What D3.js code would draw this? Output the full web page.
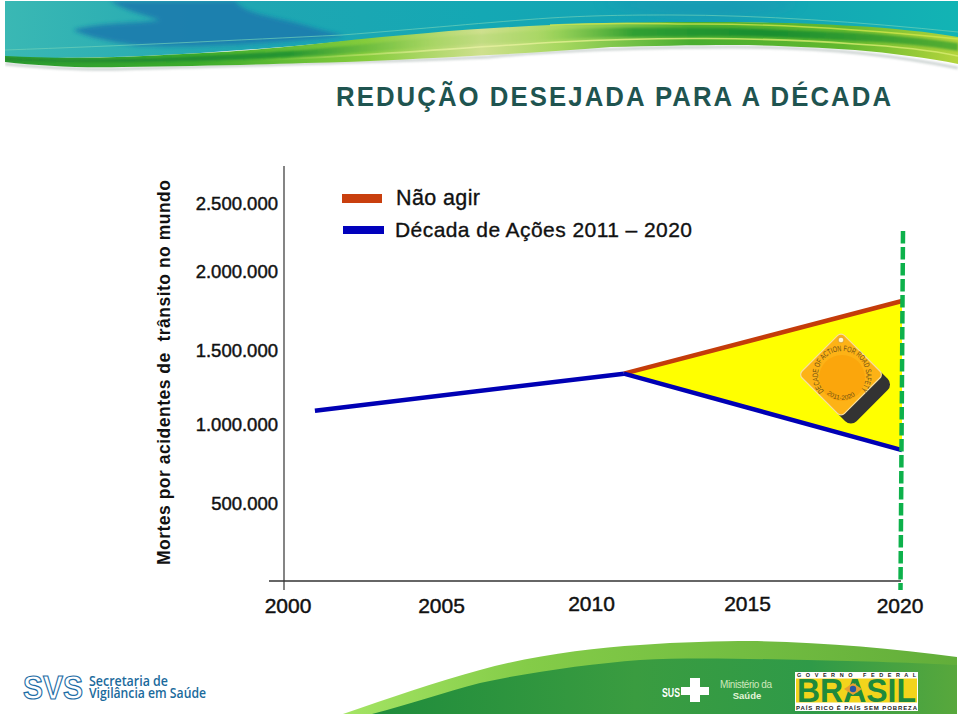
<!DOCTYPE html>
<html><head><meta charset="utf-8">
<script src="https://cdn.jsdelivr.net/npm/d3@7"></script>
<style>html,body{margin:0;background:#fff}svg{display:block}text{font-family:"Liberation Sans",Arial,sans-serif}</style>
</head><body><svg id="c" width="960" height="716"></svg>
<script>
const years=[2000,2005,2010,2015,2020];
const tickValues=[500000,1000000,1500000,2000000,2500000];
const tickLabels=["500.000","1.000.000","1.500.000","2.000.000","2.500.000"];
const trendYears=[2001,2011];
const trendValues=[1090000,1340000];
const naoAgirYears=[2011,2020];
const naoAgirValues=[1340000,1810000];
const decadaYears=[2011,2020];
const decadaValues=[1340000,835000];
const legendLabels=["Não agir","Década de Ações 2011 – 2020"];
const title="REDUÇÃO DESEJADA PARA A DÉCADA";
const yTitle="Mortes por acidentes de  trânsito no mundo";

const svg=d3.select("#c");
const defs=svg.append("defs");
function grad(id,stops,x2=1,y2=0){const g=defs.append("linearGradient").attr("id",id).attr("x1",0).attr("y1",0).attr("x2",x2).attr("y2",y2);
 stops.forEach(s=>g.append("stop").attr("offset",s[0]).attr("stop-color",s[1]).attr("stop-opacity",s[2]===undefined?1:s[2]));}
grad("sky",[[0,"#3ab8b4"],[.25,"#20a6b2"],[.5,"#14a8b4"],[.75,"#15a2b4"],[1,"#12b4b4"]]);
grad("band",[[0,"#2a9a30"],[.2,"#3cab2c"],[.38,"#86cc3c"],[.5,"#cfe08e"],[.58,"#a8d860"],[.72,"#4aae30"],[.88,"#62b82e"],[1,"#b4d43c"]]);
grad("dark",[[0,"#1f7f30",.9],[.3,"#1f9230",.9],[.45,"#8ccc50",.2],[.56,"#8ccc50",.2],[.66,"#2a9c30",.9],[.8,"#148c30",.95],[1,"#4caa30",.9]]);
grad("streak",[[0,"#d8ec70",0],[.3,"#e4f0a0",.9],[.7,"#d8ec70",.8],[1,"#d8ec70",.8]]);
grad("foot",[[0,"#a4e464"],[.3,"#84cc48"],[1,"#62ae3a"]]);
grad("foot2",[[0,"#1f8c3c"],[.45,"#3a9c40"],[.75,"#2f9a48"],[1,"#58a83c"]]);
const bl=(id,s)=>defs.append("filter").attr("id",id).attr("x","-20%").attr("y","-60%").attr("width","140%").attr("height","220%").append("feGaussianBlur").attr("stdDeviation",s);
bl("b6",6);bl("b2",2);bl("b1",.8);
defs.append("clipPath").attr("id","hdr").append("rect").attr("x",5).attr("y",1).attr("width",953).attr("height",72);

// header artwork
const h=svg.append("g").attr("clip-path","url(#hdr)");
h.append("path").attr("d","M5,1H960V40C880,26 790,22 700,22C560,24 430,33 305,45C180,56 80,60 5,57Z").attr("fill","url(#sky)");
h.append("path").attr("d","M73,30C100,22 135,24 160,20C140,14 120,8 110,1H235C245,14 270,16 300,24C320,30 335,33 345,36C290,42 200,48 140,46C110,42 85,36 73,30Z").attr("fill","#1a7cae").attr("opacity",.9).attr("filter","url(#b2)");
h.append("path").attr("d","M600,1H800C780,15 720,15 680,14C650,12 620,8 600,1Z").attr("fill","#1b93b4").attr("opacity",.55).attr("filter","url(#b6)");
h.append("path").attr("d","M5,64C60,69 90,70 122,69C220,66 390,62 489,57C560,50 660,47 733,47C800,47 880,52 958,68").attr("fill","none").attr("stroke","#8b9b98").attr("stroke-width",3).attr("opacity",.4).attr("filter","url(#b1)");
h.append("path").attr("d","M5,56C60,59 120,58 183,54C230,52 265,49 305,45C350,40 390,36 428,33C470,29 510,27 550,25C610,22 660,22 702,22C760,22 810,23 855,26C890,28 930,32 958,37V64C930,58 890,53 855,50C810,47 770,45 733,45C690,45 650,46 611,47C570,50 530,53 489,55C430,58 370,62 305,63C250,65 190,66 122,67C80,68 40,66 5,62Z").attr("fill","url(#band)");
h.append("path").attr("d","M5,58C60,61 120,60 183,57C240,54 275,52 305,50C350,46 390,41 428,38C470,34 510,32 550,30C610,27 660,28 702,28C760,28 810,31 855,33C890,35 930,39 958,43V51C930,46 890,42 855,41C810,38 760,36 702,36C660,37 610,36 550,40C510,43 470,45 428,47C390,50 350,54 305,56C275,58 240,60 183,61C120,63 60,62 5,60Z").attr("fill","url(#dark)").attr("filter","url(#b1)");
h.append("path").attr("d","M260,60C350,57 470,47 560,42C650,37 760,37 855,44C890,46 930,50 958,56").attr("fill","none").attr("stroke","url(#streak)").attr("stroke-width",1.6);
h.append("path").attr("d","M550,25C610,22 660,24 702,24C760,24 850,28 958,39").attr("fill","none").attr("stroke","#d4e84c").attr("stroke-width",1.4).attr("opacity",.75);
h.append("path").attr("d","M5,50C120,46 240,40 342,35C420,29 490,22 550,18C600,15 640,15 672,15C760,15 860,22 958,32").attr("fill","none").attr("stroke","#6fd0b8").attr("stroke-width",1).attr("opacity",.7);

// footer artwork
svg.append("path").attr("d","M343,714C390,698 435,682 480,670C530,656 590,648 640,645C680,642 720,641 750,641C820,642 890,648 957,657V714Z").attr("fill","url(#foot)");
svg.append("path").attr("d","M372,714C410,704 445,692 480,683C530,672 590,664 640,660C690,657 750,659 807,660C860,661 920,663 957,665V714Z").attr("fill","url(#foot2)");

// title
svg.append("text").attr("transform","translate(336,106) scale(.92,1)").attr("textLength",555/.92).attr("lengthAdjust","spacing")
 .attr("font-size",28).attr("font-weight",700).attr("fill","#1f5450").text(title);

// scales
const x=d3.scaleLinear().domain([2000,2020]).range([284,902]);
const y=d3.scaleLinear().domain(tickValues).range([503,424,350,271,203]);
const yearNudge=d3.scaleOrdinal().domain(years).range([4,3,-1.5,0,-2]);
const yearLift=d3.scaleOrdinal().domain(years).range([613,613,611,611,613]);

// axes
svg.append("line").attr("x1",284).attr("x2",284).attr("y1",166).attr("y2",590).attr("stroke","#333").attr("stroke-width",1.2);
svg.append("line").attr("x1",269).attr("x2",901).attr("y1",581).attr("y2",581).attr("stroke","#333").attr("stroke-width",1.3);
svg.append("g").selectAll("text").data(tickValues).join("text")
 .attr("x",278).attr("y",d=>y(d)+6.5).attr("text-anchor","end").attr("font-size",18.5).attr("fill","#111").attr("stroke","#111").attr("stroke-width",.45)
 .text((d,i)=>tickLabels[i]);
svg.append("g").selectAll("text").data(years).join("text")
 .attr("x",d=>x(d)+yearNudge(d)).attr("y",d=>yearLift(d)).attr("text-anchor","middle")
 .attr("font-size",21).attr("fill","#111").attr("stroke","#111").attr("stroke-width",.45).text(d=>d);
svg.append("text").attr("transform","translate(170,565) rotate(-90)").style("white-space","pre")
 .attr("textLength",385).attr("font-size",17.5).attr("font-weight",700).attr("fill","#111").text(yTitle);

// yellow wedge
const tri=naoAgirYears.map((d,i)=>[d,naoAgirValues[i]]).concat([[decadaYears[1],decadaValues[1]]]);
svg.append("path").attr("d",d3.line().x(d=>x(d[0])).y(d=>y(d[1]))(tri)+"Z").attr("fill","#ffff00");

// badge
const b=svg.append("g").attr("transform","translate(841,374.5) rotate(45)");
b.append("rect").attr("x",-6).attr("y",-30).attr("width",50).attr("height",60).attr("rx",8).attr("fill","#333333");
b.append("rect").attr("x",-30).attr("y",-30).attr("width",60).attr("height",60).attr("rx",5).attr("fill","#fdb216").attr("stroke","#f8e0a0").attr("stroke-width",1.2);
svg.append("circle").attr("cx",842).attr("cy",378).attr("r",23).attr("fill","#fba60c");
svg.append("circle").attr("cx",841).attr("cy",340).attr("r",2.8).attr("fill","#fff6d0").attr("stroke","#c98a10").attr("stroke-width",.6);
defs.append("path").attr("id","ring").attr("d","M824,391A24,24 0 1 1 860,391");
svg.append("text").attr("font-size",8).attr("fill","#6e4f14").append("textPath").attr("href","#ring").attr("textLength",108).attr("lengthAdjust","spacingAndGlyphs").text("DECADE OF ACTION FOR ROAD SAFETY");
defs.append("path").attr("id","ring2").attr("d","M826,393A22,22 0 0 0 858,393");
svg.append("text").attr("font-size",6.5).attr("fill","#6e4f14").append("textPath").attr("href","#ring2").attr("startOffset","3%").text("2011-2020");

// lines
const ln=(xs,vs,c,w)=>svg.append("path").attr("d",d3.line().x((d,i)=>x(xs[i])).y(d=>y(d))(vs)).attr("fill","none").attr("stroke",c).attr("stroke-width",w);
ln(naoAgirYears,naoAgirValues,"#c43c0a",4.5);
ln(trendYears,trendValues,"#0000b4",4.5);
ln(decadaYears,decadaValues,"#0000b4",4.5);

// green dashed target
svg.append("line").attr("x1",903).attr("x2",900.5).attr("y1",231).attr("y2",590).attr("stroke","#0db14b").attr("stroke-width",4.5).attr("stroke-dasharray","12.5 3.5");

// legend
svg.append("rect").attr("x",342).attr("y",194).attr("width",40).attr("height",9).attr("fill","#c93f0e");
svg.append("rect").attr("x",343).attr("y",226).attr("width",41).attr("height",8).attr("fill","#0000bc");
svg.append("text").attr("x",396).attr("y",205).attr("font-size",21.5).attr("textLength",84).attr("fill","#111").attr("stroke","#111").attr("stroke-width",.35).text(legendLabels[0]);
svg.append("text").attr("x",395).attr("y",237).attr("font-size",21).attr("textLength",297).attr("fill","#111").attr("stroke","#111").attr("stroke-width",.35).text(legendLabels[1]);

// SVS logo
svg.append("text").attr("x",23).attr("y",699).attr("font-size",33).attr("font-weight",700).attr("textLength",60).attr("lengthAdjust","spacingAndGlyphs").attr("fill","#fff").attr("stroke","#1e6ea6").attr("stroke-width",1.2).text("SVS");
svg.append("text").attr("x",89).attr("y",686).attr("font-size",14).style("font-family","'Open Sans'").attr("font-weight",600).attr("textLength",79).attr("lengthAdjust","spacingAndGlyphs").attr("fill","#1a6a9c").text("Secretaria de");
svg.append("text").attr("x",89).attr("y",697.5).attr("font-size",14).style("font-family","'Open Sans'").attr("font-weight",600).attr("textLength",117).attr("lengthAdjust","spacingAndGlyphs").attr("fill","#1a6a9c").text("Vigilância em Saúde");

// Ministry logos
svg.append("text").attr("x",662).attr("y",697).attr("font-size",12.5).attr("font-weight",700).attr("textLength",18).attr("lengthAdjust","spacingAndGlyphs").attr("fill","#fff").text("SUS");
svg.append("path").attr("d","M690,678h10v9h9v8h-9v7h-10v-7h-9v-8h9z").attr("fill","#fff");
svg.append("text").attr("x",746).attr("y",688).attr("text-anchor","middle").attr("font-size",10).attr("textLength",52).attr("fill","#cfe8bc").text("Ministério da");
svg.append("text").attr("x",747).attr("y",699).attr("text-anchor","middle").attr("font-size",9.5).attr("font-weight",700).attr("fill","#e4f4d8").text("Saúde");

// Brasil logo
svg.append("rect").attr("x",795).attr("y",672).attr("width",123).attr("height",39).attr("fill","#fff");
svg.append("rect").attr("x",796).attr("y",678.5).attr("width",121).attr("height",24).attr("fill","#f3d41c");
svg.append("text").attr("x",797).attr("y",677).style("white-space","pre").attr("textLength",119).attr("font-size",5.5).attr("font-weight",700).attr("fill","#222").text("G O V E R N O   F E D E R A L");
svg.append("text").attr("x",797).attr("y",702).attr("textLength",119).attr("lengthAdjust","spacingAndGlyphs").attr("font-size",33).attr("font-weight",700).attr("fill","#1f8a3c").text("BRASIL");
svg.append("path").attr("d","M853,683l9,6l-9,6l-9,-6z").attr("fill","#e8a030");
svg.append("circle").attr("cx",853).attr("cy",689).attr("r",3.2).attr("fill","#2a55a0");
svg.append("text").attr("x",796).attr("y",709.5).attr("textLength",121).attr("font-size",6).attr("font-weight",700).attr("fill","#222").text("PAÍS RICO É PAÍS SEM POBREZA");
</script></body></html>
